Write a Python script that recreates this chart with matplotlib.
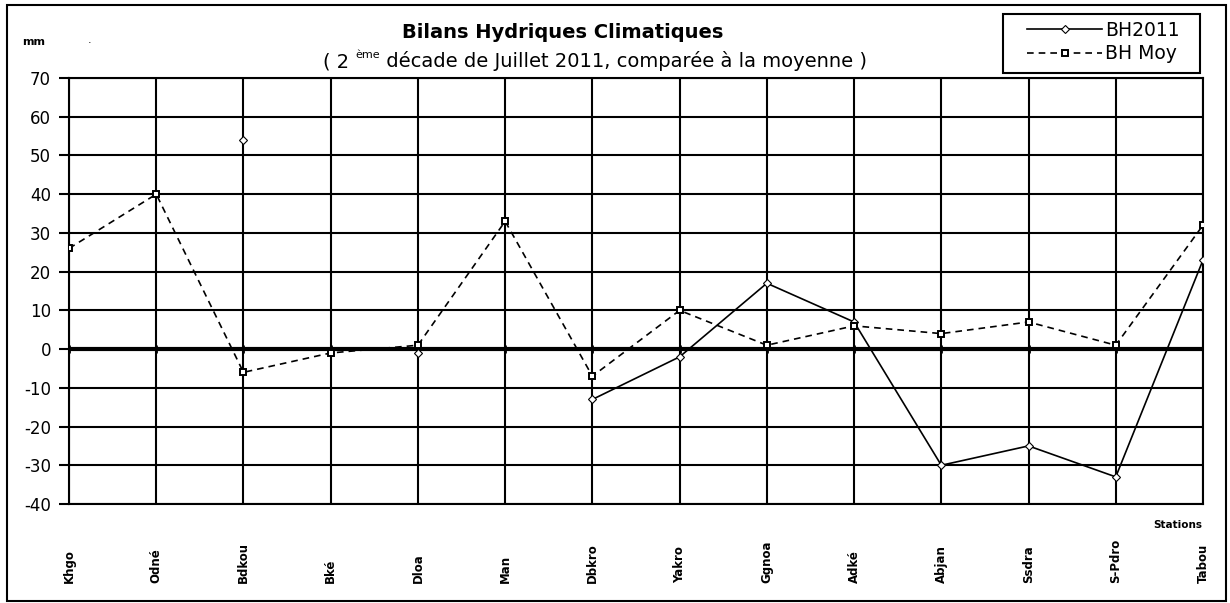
import numpy as np
import matplotlib
matplotlib.use('Agg')
import matplotlib.pyplot as plt
from matplotlib.patches import Rectangle

plt.rcParams['font.family'] = ['DejaVu Sans']
plt.rcParams['axes.unicode_minus'] = False

# data (nan = no value)
stations = ['Khgo', 'Odné', 'Bdkou', 'Bké', 'Dloa', 'Man', 'Dbkro',
            'Yakro', 'Ggnoa', 'Adké', 'Abjan', 'Ssdra', 'S-Pdro', 'Tabou']
bh2011 = [np.nan, np.nan, 54, np.nan, -1, np.nan, -13,
          -2, 17, 7, -30, -25, -33, 23]
bh_moy = [26, 40, -6, -1, 1, 33, -7, 10, 1, 6, 4, 7, 1, 32]
yticks = list(range(-40, 71, 10))

W, H = 1230, 603
fig = plt.figure(figsize=(W / 100, H / 100), dpi=100)
ax = fig.add_axes([69 / W, 1 - 504 / H, (1203 - 69) / W, (504 - 78) / H])

x = np.arange(len(stations))

ax.plot(x, bh2011, color='black', lw=1.2, marker='D', ms=4.5,
        mfc='white', mec='black', mew=0.8, label='BH2011', zorder=4)
ax.plot(x, bh_moy, color='black', lw=1.2, ls=(0, (4, 3)), marker='s', ms=5,
        mfc='white', mec='black', mew=1.4, label='BH Moy', zorder=4)

ax.set_xlim(0, len(stations) - 1)
ax.set_ylim(-40, 70)
ax.set_yticks(yticks)
ax.set_xticks(x)

ax.grid(True, color='black', lw=1.5)
ax.set_axisbelow(True)
ax.axhline(0, color='black', lw=3, zorder=3)
ax.plot(x, np.zeros(len(x)), ls='none', marker='|', ms=6, mew=2, color='black', zorder=3)
for s in ax.spines.values():
    s.set_color('black')
    s.set_linewidth(1.5)

ax.tick_params(axis='y', length=7, width=1.5, pad=6, labelsize=12)
ax.tick_params(axis='x', length=0, pad=57)
ax.set_xticklabels(stations, rotation=90, va='bottom', ha='center',
                   fontsize=8.5, fontweight='bold')

# legend (frame drawn separately, it is wider than the entries)
leg = ax.legend(loc='center left', bbox_to_anchor=(1027 / W, 1 - 42 / H),
                bbox_transform=fig.transFigure, fontsize=13.5, frameon=False,
                handlelength=4.0, handletextpad=0.15, borderpad=0,
                labelspacing=0.25, borderaxespad=0)
fig.patches.append(Rectangle((1003 / W, 1 - 73 / H), (1200 - 1003) / W, (73 - 14) / H,
                             transform=fig.transFigure, fill=False,
                             edgecolor='black', lw=1.5))

# titles
fig.text(563 / W, 1 - 33 / H, 'Bilans Hydriques Climatiques', ha='center',
         va='center', fontsize=14, fontweight='bold')

fig.canvas.draw()
r = fig.canvas.get_renderer()
parts = ['( 2 ', 'ème', ' décade de Juillet 2011, comparée à la moyenne )']
t0 = fig.text(0, 0, parts[0], fontsize=14)
t1 = fig.text(0, 0, parts[1], fontsize=8)
t2 = fig.text(0, 0, parts[2], fontsize=14)
w0 = t0.get_window_extent(r).width
w1 = t1.get_window_extent(r).width
w2 = t2.get_window_extent(r).width
xs = 595 - (w0 + w1 + w2) / 2
ybase = H - 67
t0.set_position((xs / W, ybase / H))
t1.set_position(((xs + w0) / W, (ybase + 9) / H))
t2.set_position(((xs + w0 + w1) / W, ybase / H))

fig.text(22 / W, 1 - 42 / H, 'mm', fontsize=8, fontweight='bold', va='center')
fig.text(88 / W, 1 - 40 / H, '.', fontsize=8, va='center')
fig.text(1202 / W, 1 - 525 / H, 'Stations', fontsize=7.5, fontweight='bold',
         ha='right', va='center')

fig.patches.append(Rectangle((7 / W, 1 - 601 / H), (1226 - 7) / W, (601 - 5) / H,
                             transform=fig.transFigure, fill=False,
                             edgecolor='black', lw=1.5))

fig.savefig('out.png', dpi=100)
